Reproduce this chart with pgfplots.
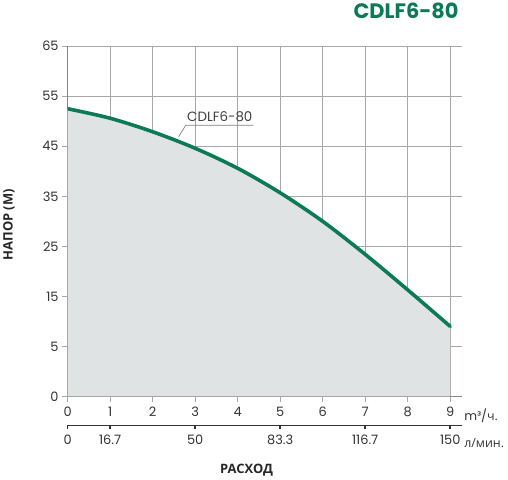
\documentclass[border=0pt]{standalone}
\usepackage{pgfplots}
\pgfplotsset{compat=1.18}
\usepgfplotslibrary{fillbetween}
\usepackage{fontspec}
\setmainfont{Poppins}
\newfontfamily\cyr{Open Sans}
\definecolor{pumpgreen}{HTML}{0B7A55}
\definecolor{areafill}{HTML}{DFE3E3}
\definecolor{gridgray}{HTML}{A8A8A8}
\begin{document}
\begin{tikzpicture}
\path (-66.7bp,-82bp) rectangle (441.3bp,395bp);
% main chart: y axis is drawn with the bottom tick labelled 0
\begin{axis}[
	set layers,
	scale only axis, width=395.3bp, height=351bp,
	xmin=0, xmax=9.28, ymin=-5, ymax=65,
	axis lines=left, axis line style={-, gridgray!80!black, line width=1.1bp},
	xtick={0,...,9},
	ytick={-5,5,...,65},
	yticklabels={0,5,15,25,35,45,55,65},
	grid=major, grid style={gridgray, line width=0.8bp},
	tick align=outside, major tick length=5.5bp,
	tick style={gridgray, line width=0.8bp},
	ticklabel style={font=\fontsize{13}{13}\selectfont, text=black!80},
	xticklabel style={yshift=-1.5bp},
	/pgf/number format/assume math mode=true,
	]
	\addplot[name path=curve, pumpgreen, line width=3.6bp, smooth, line cap=round]
	coordinates {
		(0,52.5) (1,50.6) (2,47.9) (3,44.6) (4,40.6)
		(5,35.7) (6,30.0) (7,23.4) (8,16.3) (9,9.0)
	};
	\addplot[draw=none, name path=base] coordinates {(0,-5) (9,-5)};
	\addplot[areafill, on layer=axis background] fill between[of=curve and base];
	\draw[gray, line width=0.7bp] (axis cs:2.61,46.9) -- (axis cs:2.78,49.2) -- (axis cs:4.37,49.2);
	\node[font=\fontsize{13.5}{13.5}\selectfont, text=black!75] at (axis cs:3.58,51.0) {CDLF6-80};
\end{axis}
% second scale in l/min
\begin{axis}[
	scale only axis, width=395.3bp, height=10bp,
	at={(0,-29bp)}, anchor=south west,
	xmin=0, xmax=9.28, ymin=0, ymax=1,
	axis x line=bottom, axis y line=none,
	axis line style={-, black!80, line width=1.4bp},
	xtick={0,1,3,5,7,9},
	xticklabels={0,16.7,50,83.3,116.7,150},
	tick align=outside, major tick length=4bp,
	tick style={black!80, line width=1.4bp},
	ticklabel style={font=\fontsize{13}{13}\selectfont, text=black!80},
	xticklabel style={yshift=-2bp},
	]
	\addplot[draw=none] coordinates {(0,0) (9,0)};
\end{axis}
\node[anchor=east, font=\bfseries\fontsize{21}{21}\selectfont, text=pumpgreen] at (395.3bp,386bp) {CDLF6-80};
\node[rotate=90, font=\cyr\bfseries\fontsize{13}{13}\selectfont, text=black!85] at (-58.7bp,172bp) {НАПОР (М)};
\node[font=\cyr\bfseries\fontsize{13}{13}\selectfont, text=black!85] at (179.3bp,-74bp) {РАСХОД};
\node[anchor=west, font=\fontsize{12.5}{12.5}\selectfont, text=black!80, inner sep=0pt] at (397.3bp,-19bp) {m³/{\cyr ч.}};
\node[anchor=west, font=\cyr\fontsize{12.5}{12.5}\selectfont, text=black!80, inner sep=0pt] at (397.3bp,-47bp) {л/мин.};
\end{tikzpicture}
\end{document}
